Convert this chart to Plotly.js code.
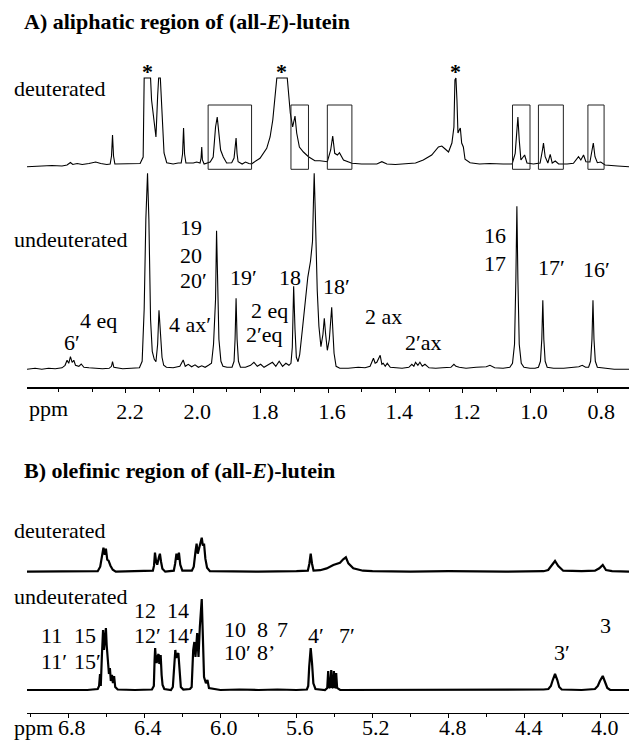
<!DOCTYPE html>
<html>
<head>
<meta charset="utf-8">
<script src="https://cdn.plot.ly/plotly-3.0.1.min.js"></script>
<style>html,body{margin:0;padding:0;background:#fff;}#chart{width:629px;height:744px;}</style>
</head>
<body>
<div id="chart"></div>
<script>
// ---------- DATA (ppm, intensity in arbitrary units) ----------
const aliphaticTicks = [2.2, 2.0, 1.8, 1.6, 1.4, 1.2, 1.0, 0.8];
const aliphaticTickText = ["2.2", "2.0", "1.8", "1.6", "1.4", "1.2", "1.0", "0.8"];
const olefinicTicks = [6.8, 6.4, 6.0, 5.6, 5.2, 4.8, 4.4, 4.0];
const olefinicTickText = ["6.8", "6.4", "6.0", "5.6", "5.2", "4.8", "4.4", "4.0"];

const aliphaticDeut = [
[2.494,-0.7],[2.45,0],[2.42,0.5],[2.39,0],[2.375,1],[2.365,3.5],[2.358,1.5],[2.345,2.5],[2.33,1.5],[2.31,2.5],[2.29,4],[2.275,2.5],[2.257,1.5],[2.247,2],[2.243,10],[2.240,31],[2.237,10],[2.233,2],[2.20,2],[2.17,2],[2.158,2.5],[2.149,9],[2.146,88],[2.127,88],[2.124,66],[2.117,46],[2.111,29],[2.106,70],[2.103,88],[2.098,88],[2.095,70],[2.091,49],[2.087,13],[2.079,3.3],[2.06,2],[2.045,3],[2.036,3],[2.032,12],[2.029,38],[2.026,12],[2.022,3],[2.00,3],[1.99,4],[1.980,3],[1.977,8],[1.975,19],[1.973,6],[1.968,2],[1.960,3],[1.950,4],[1.941,9],[1.934,39],[1.929,49],[1.924,33],[1.919,16],[1.911,9],[1.901,3],[1.886,3.3],[1.879,8],[1.876,18],[1.873,28],[1.870,12],[1.867,4.3],[1.855,2],[1.845,4],[1.835,2.5],[1.827,2],[1.822,3.3],[1.802,7.7],[1.782,17.7],[1.772,29],[1.764,46],[1.759,66],[1.754,86],[1.752,88],[1.721,88],[1.717,73],[1.712,53],[1.705,39],[1.698,50],[1.693,33],[1.685,19],[1.673,14],[1.658,9.3],[1.639,5.3],[1.624,5.3],[1.602,4.3],[1.592,16],[1.586,30],[1.580,12.7],[1.572,11],[1.566,13.3],[1.554,6],[1.529,2.7],[1.50,2],[1.47,1.5],[1.455,2],[1.440,4.3],[1.425,2],[1.40,1.5],[1.37,2],[1.34,3],[1.317,6],[1.292,11],[1.272,19],[1.262,20],[1.252,17],[1.242,14],[1.232,23],[1.226,39],[1.223,86],[1.220,88],[1.217,66],[1.214,33],[1.210,36],[1.207,38],[1.203,23],[1.198,19],[1.193,6.7],[1.178,3.3],[1.15,2],[1.12,2.5],[1.08,2],[1.053,2],[1.044,12.7],[1.039,39],[1.036,49],[1.032,26],[1.027,6],[1.016,11],[1.009,3],[0.990,2],[0.970,3],[0.963,16],[0.960,23],[0.955,9.3],[0.947,3],[0.940,11.7],[0.934,3],[0.925,5],[0.915,2],[0.890,2],[0.871,2.7],[0.856,9.3],[0.849,6],[0.841,11],[0.834,4.3],[0.822,4],[0.817,12.7],[0.812,23],[0.807,9.3],[0.800,3.3],[0.790,4],[0.777,1],[0.74,0],[0.706,-0.7]
];

const aliphaticUndeut = [
[2.494,0],[2.47,1],[2.45,0],[2.43,1],[2.41,0.5],[2.39,1.5],[2.381,4],[2.375,9],[2.370,6],[2.365,12.6],[2.360,7],[2.355,9],[2.350,4],[2.340,3],[2.333,5.3],[2.325,2],[2.31,1.5],[2.29,1],[2.27,0.5],[2.25,1],[2.243,3],[2.240,7.6],[2.236,2],[2.21,0.5],[2.18,1],[2.16,1.5],[2.152,8],[2.146,60],[2.141,150],[2.136,196],[2.132,150],[2.127,50],[2.122,18],[2.116,10],[2.111,7.6],[2.106,25],[2.102,59],[2.098,35],[2.093,12],[2.088,4],[2.080,2],[2.06,1.5],[2.04,3],[2.030,9.3],[2.024,3],[2.015,5],[2.005,2.5],[1.995,4.5],[1.985,2],[1.975,3.5],[1.965,2],[1.955,4],[1.946,6],[1.940,25],[1.937,60],[1.934,70],[1.931,138.6],[1.928,90],[1.924,30],[1.918,8],[1.912,3],[1.90,2],[1.885,2],[1.879,8],[1.876,30],[1.873,71],[1.870,30],[1.866,8],[1.860,2],[1.845,2],[1.83,4],[1.82,7],[1.81,3],[1.80,5],[1.79,2],[1.775,5],[1.765,7],[1.755,3],[1.745,8],[1.735,3],[1.725,6],[1.716,4],[1.710,6],[1.706,22],[1.702,83],[1.698,40],[1.694,12],[1.689,7.6],[1.684,15],[1.676,40],[1.668,70],[1.660,92],[1.652,108],[1.646,128],[1.643,170],[1.641,196],[1.638,160],[1.636,129],[1.632,79],[1.627,43],[1.621,22.6],[1.615,35],[1.611,51],[1.607,35],[1.602,19],[1.596,30],[1.589,62],[1.585,35],[1.582,16],[1.576,3],[1.565,1],[1.54,1],[1.51,2],[1.49,1.5],[1.475,3],[1.465,11],[1.460,6],[1.455,7],[1.445,14],[1.440,5],[1.436,6],[1.430,3],[1.424,6],[1.415,2],[1.40,1.5],[1.38,1],[1.36,2],[1.351,5],[1.345,3],[1.340,7],[1.333,4],[1.327,7],[1.320,3],[1.312,5],[1.30,1.5],[1.28,1],[1.26,1.5],[1.235,2],[1.226,5],[1.220,3],[1.21,2],[1.19,1],[1.16,2],[1.13,2.5],[1.119,4],[1.105,1.5],[1.080,1],[1.060,2],[1.052,6],[1.046,25],[1.042,90],[1.039,163],[1.036,90],[1.032,25],[1.026,6],[1.018,2],[1.00,1],[0.985,1],[0.975,2],[0.969,8],[0.965,30],[0.962,69],[0.959,30],[0.955,8],[0.949,2],[0.93,1],[0.90,1],[0.875,2],[0.855,2.5],[0.845,4],[0.835,2],[0.826,2],[0.820,8],[0.816,30],[0.813,69],[0.810,30],[0.806,8],[0.800,2],[0.78,1],[0.75,0],[0.706,0]
];

const olefinicDeut = [
[7.017,0],[6.80,0],[6.70,0.5],[6.645,0.5],[6.632,5],[6.622,18],[6.615,24],[6.608,17],[6.602,23],[6.595,12],[6.588,11],[6.578,6],[6.566,2],[6.55,0],[6.40,0.5],[6.355,1],[6.349,6],[6.344,19],[6.338,10],[6.332,7],[6.324,14],[6.318,18],[6.312,10],[6.305,3],[6.29,0],[6.245,1],[6.238,8],[6.231,18],[6.225,12],[6.218,19],[6.211,7],[6.200,1],[6.15,1],[6.140,5],[6.131,20],[6.125,28],[6.119,18],[6.113,22],[6.106,26],[6.098,34],[6.092,26],[6.086,28],[6.079,13],[6.070,4],[6.055,0.5],[5.80,0],[5.60,0.5],[5.540,1],[5.532,8],[5.525,18],[5.518,8],[5.510,1],[5.475,1.5],[5.441,3.3],[5.406,6.7],[5.371,9],[5.354,12.4],[5.340,14.4],[5.327,8.4],[5.301,3.4],[5.250,1],[5.20,0.5],[5.00,0],[4.80,0.5],[4.50,0],[4.30,0.5],[4.276,1.7],[4.252,8.4],[4.240,10.7],[4.223,5.7],[4.197,1],[4.10,0.5],[4.030,1],[4.007,3.4],[3.989,6.7],[3.972,1.7],[3.94,0.5],[3.851,0]
];

const olefinicUndeut = [
[7.017,0],[6.90,0],[6.80,0.5],[6.70,0],[6.645,1],[6.638,4],[6.633,16],[6.629,4],[6.623,35],[6.617,60],[6.612,40],[6.606,50],[6.602,62],[6.598,45],[6.592,28],[6.586,16],[6.581,22],[6.576,9],[6.570,15],[6.565,7],[6.559,14],[6.553,3],[6.54,0.5],[6.45,0],[6.36,0.5],[6.350,4],[6.346,30],[6.343,42],[6.339,30],[6.335,27],[6.330,34],[6.325,36],[6.321,26],[6.318,34],[6.314,35],[6.309,15],[6.304,5],[6.295,1],[6.26,0],[6.250,3],[6.243,30],[6.237,40],[6.232,32],[6.228,35],[6.221,37],[6.215,20],[6.208,3],[6.195,0.5],[6.160,1],[6.151,3],[6.143,40],[6.137,48],[6.131,33],[6.122,57],[6.115,33],[6.108,63],[6.098,91],[6.092,53],[6.086,13],[6.076,6.7],[6.068,10],[6.060,2],[6.00,0],[5.90,0.5],[5.80,0],[5.70,0.5],[5.60,0],[5.545,0.5],[5.538,4],[5.533,23],[5.525,42],[5.518,27],[5.511,6.7],[5.500,1],[5.45,0],[5.438,2],[5.433,19],[5.428,2],[5.422,3],[5.417,20],[5.412,2],[5.407,3],[5.403,19],[5.398,2],[5.394,3],[5.391,17],[5.386,2],[5.37,0],[5.20,0],[5.00,0.5],[4.80,0],[4.60,0.5],[4.40,0],[4.30,0.5],[4.275,1],[4.262,4],[4.252,10],[4.240,16],[4.228,10],[4.218,3],[4.205,0.5],[4.10,0],[4.030,1],[4.015,4],[4.004,9],[3.989,14],[3.977,8],[3.965,2],[3.95,0],[3.851,0]
];

// highlighted regions in the deuterated aliphatic spectrum (ppm from, ppm to)
const deutBoxes = [[1.956,1.827],[1.710,1.658],[1.602,1.529],[1.052,1.000],[0.975,0.901],[0.828,0.780]];
// solvent / residual signals marked with *
const starPpm = [2.137, 1.737, 1.220];

// ---------- LAYOUT HELPERS ----------
const W = 629, H = 744, L = 27;
const FONT = '"Liberation Serif", "Times New Roman", Times, serif';
const px = x => (x - L) / (W - L);
const py = y => 1 - y / H;
function yAx(basePx, bottomPx, topPx, anchor) {
  return {domain: [py(bottomPx), py(topPx)], range: [-(bottomPx - basePx), basePx - topPx],
          visible: false, anchor: anchor, fixedrange: true};
}
function spec(arr, xa, ya, w) {
  return {x: arr.map(p => p[0]), y: arr.map(p => p[1]), xaxis: xa, yaxis: ya,
          type: 'scatter', mode: 'lines', line: {color: '#000', width: w}, hoverinfo: 'skip'};
}
function xAx(range, posPx, vals, text, minorDt, showLabels) {
  return {domain: [0, 1], range: range, autorange: false, anchor: 'free', position: py(posPx),
          showline: true, linecolor: '#000', linewidth: 1.3, ticks: 'outside', ticklen: 4,
          tickwidth: 1, tickcolor: '#000', tickmode: 'array', tickvals: vals, ticktext: text,
          showticklabels: showLabels,
          tickfont: {family: FONT, size: 22, color: '#000'}, ticklabelshift: -4,
          showgrid: false, zeroline: false, fixedrange: true,
          minor: {tickmode: 'linear', tick0: 0, dtick: minorDt, ticks: 'outside', ticklen: 3,
                  tickcolor: '#000', tickwidth: 1, showgrid: false}};
}
const ann = [];
function txt(s, xPx, yPx, anchor, extra) {
  ann.push(Object.assign({text: s, x: px(xPx), y: py(yPx), xref: 'paper', yref: 'paper',
    xanchor: anchor || 'center', yanchor: 'middle', showarrow: false,
    font: {family: FONT, size: 22, color: '#000'}}, extra || {}));
}

// titles
txt('<b>A) aliphatic region of (all-<i>E</i>)-lutein</b>', 22, 21.7, 'left');
txt('<b>B) olefinic region of (all-<i>E</i>)-lutein</b>', 21.7, 470, 'left');
// panel A texts
txt('deuterated', 11.7, 88, 'left');
txt('undeuterated', 11.7, 239, 'left');
txt('ppm', 27, 409, 'left');
txt('4 eq', 98, 320); txt('6′', 71.7, 342.7);
txt('19', 178, 227.3, 'left'); txt('20', 178, 255, 'left'); txt('20′', 178, 280, 'left');
txt('4 ax′', 190.3, 324);
txt('19′', 244, 277.3); txt('18', 290.3, 277.3);
txt('2 eq', 269, 310); txt('2′eq', 264, 335);
txt('18′', 336.3, 286.7);
txt('2 ax', 383.3, 316.7); txt('2′ax', 423, 342.7);
txt('16', 481.7, 236, 'left'); txt('17', 481.7, 263.3, 'left');
txt('17′', 551.7, 267.7); txt('16′', 596.3, 269.3);
// panel B texts
txt('deuterated', 11.7, 530, 'left');
txt('undeuterated', 11.7, 596.7, 'left');
txt('ppm', 12, 727.5, 'left');
txt('11', 39.3, 635, 'left'); txt('15', 71.7, 635, 'left');
txt('11′', 39.3, 661.7, 'left'); txt('15′', 71.7, 661.7, 'left');
txt('12', 131.7, 610, 'left'); txt('14', 165, 610, 'left');
txt('12′', 131.7, 635, 'left'); txt('14′', 165, 635, 'left');
txt('10', 221.7, 629, 'left'); txt('8', 255, 629, 'left'); txt('7', 275, 629, 'left');
txt('10′', 221.7, 652, 'left'); txt('8’', 255, 652, 'left');
txt('4′', 306, 635, 'left'); txt('7′', 336.7, 635, 'left');
txt('3′', 551.7, 652.3, 'left'); txt('3', 598.3, 625.7, 'left');
// panel B tick numbers, placed through the x2 scale (closer to the axis line than panel A)
olefinicTicks.forEach((v, i) => ann.push({text: olefinicTickText[i], x: v, xref: 'x2',
  y: py(727.5), yref: 'paper', xanchor: 'center', yanchor: 'middle', xshift: 4,
  showarrow: false, font: {family: FONT, size: 22, color: '#000'}}));
// asterisks (data-anchored on the deuterated spectrum axis)
starPpm.forEach(p => ann.push({text: '<b>*</b>', x: p, y: 80, xref: 'x', yref: 'y2',
  xanchor: 'center', yanchor: 'bottom', showarrow: false,
  font: {family: FONT, size: 22, color: '#000'}}));

const shapes = deutBoxes.map(b => ({type: 'rect', xref: 'x', yref: 'y2', x0: b[0], x1: b[1],
  y0: -3.3, y1: 61, line: {color: '#222', width: 1}, fillcolor: 'rgba(0,0,0,0)'}));

const data = [
  spec(aliphaticUndeut, 'x', 'y', 1.1),
  spec(aliphaticDeut, 'x', 'y2', 1.1),
  spec(olefinicUndeut, 'x2', 'y3', 2.2),
  spec(olefinicDeut, 'x2', 'y4', 2.2)
];

const layout = {
  width: W, height: H, margin: {l: L, r: 0, t: 0, b: 0, pad: 0},
  paper_bgcolor: '#fff', plot_bgcolor: 'rgba(0,0,0,0)', showlegend: false,
  font: {family: FONT, size: 22, color: '#000'},
  xaxis: xAx([2.494, 0.706], 387.3, aliphaticTicks, aliphaticTickText, 0.1, true),
  xaxis2: xAx([7.017, 3.851], 712.7, olefinicTicks, olefinicTickText, 0.2, false),
  yaxis: yAx(369.3, 386, 165, 'x'),
  yaxis2: yAx(166, 175, 60, 'x'),
  yaxis3: yAx(690, 705, 590, 'x2'),
  yaxis4: yAx(571.7, 580, 520, 'x2'),
  annotations: ann, shapes: shapes
};
Plotly.newPlot('chart', data, layout, {staticPlot: true, displayModeBar: false});
</script>
</body>
</html>
